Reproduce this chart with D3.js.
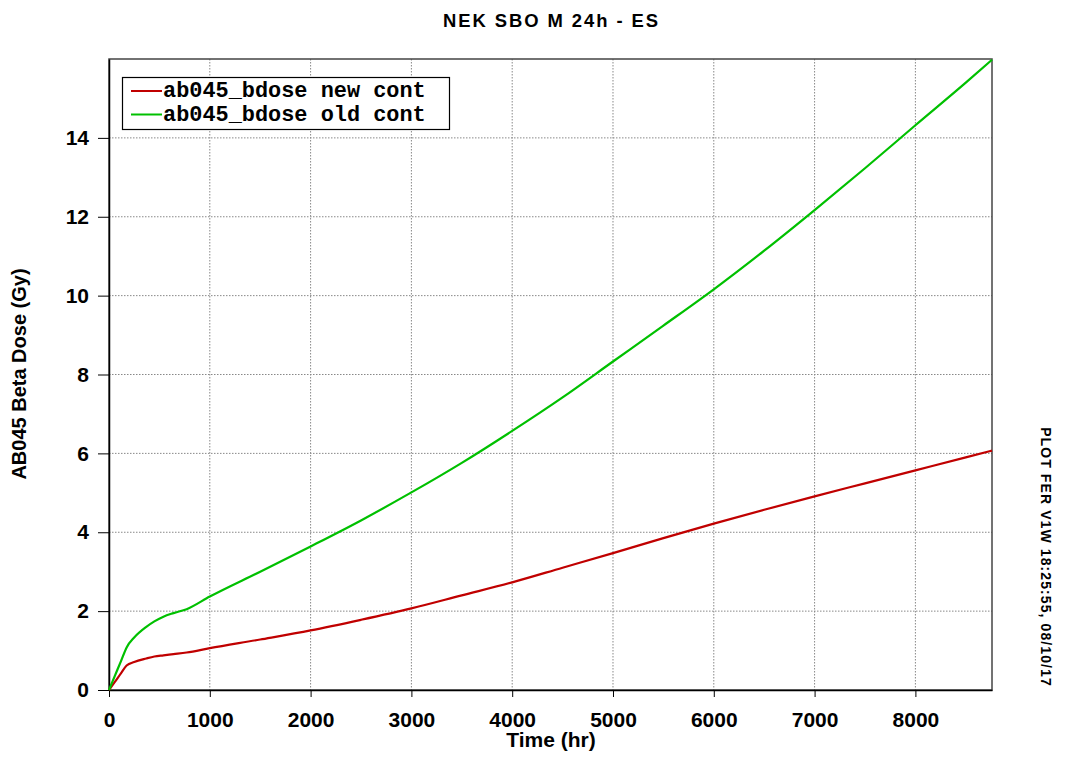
<!DOCTYPE html>
<html>
<head>
<meta charset="utf-8">
<script src="https://cdn.jsdelivr.net/npm/d3@7"></script>
<style>
  body { margin: 0; background: #fff; }
  text { font-family: "Liberation Sans", Arial, sans-serif; font-weight: bold; }
  .grid line { stroke: #888; stroke-dasharray: 1.5,1.5; stroke-width: 1; }
  .axis path, .axis line { stroke: #000; }
  .legend text { font-family: "Liberation Mono", "Courier New", monospace; font-weight: bold; }
</style>
</head>
<body>
<script>
// hours
var hours = [0, 60, 120, 175, 250, 370, 450, 540, 640, 770, 1000, 1500, 2000, 2500, 3000, 3500, 4000, 4500, 5000, 5500, 6000, 6500, 7000, 7500, 8000, 8500, 8760];
// dose, Gy
var newCont = [0, 0.21, 0.43, 0.62, 0.71, 0.80, 0.85, 0.88, 0.91, 0.95, 1.06, 1.28, 1.51, 1.78, 2.07, 2.40, 2.73, 3.10, 3.47, 3.85, 4.22, 4.57, 4.91, 5.24, 5.57, 5.90, 6.07];
var oldCont = [0, 0.37, 0.74, 1.08, 1.33, 1.60, 1.74, 1.86, 1.95, 2.05, 2.37, 3.00, 3.64, 4.30, 5.01, 5.76, 6.57, 7.42, 8.33, 9.24, 10.16, 11.14, 12.17, 13.23, 14.32, 15.40, 15.98];
var seriesNames = ["ab045_bdose new cont", "ab045_bdose old cont"];
var seriesColors = ["#c00000", "#00c000"];
var xTicks = [0, 1000, 2000, 3000, 4000, 5000, 6000, 7000, 8000];
var yTicks = [0, 2, 4, 6, 8, 10, 12, 14];

var W = 1091, H = 761;
var m = { left: 109, top: 59, right: 992, bottom: 690 };

var svg = d3.select("body").append("svg")
    .attr("width", W).attr("height", H);

var x = d3.scaleLinear().domain([0, 8760]).range([m.left, m.right]);
var y = d3.scaleLinear().domain([0, 16]).range([m.bottom, m.top]);

// grid
var grid = svg.append("g").attr("class", "grid");
grid.selectAll("line.v").data(xTicks.slice(1)).enter().append("line")
    .attr("x1", function(d) { return x(d); }).attr("x2", function(d) { return x(d); })
    .attr("y1", m.top).attr("y2", m.bottom);
grid.selectAll("line.h").data(yTicks.slice(1)).enter().append("line")
    .attr("y1", function(d) { return y(d); }).attr("y2", function(d) { return y(d); })
    .attr("x1", m.left).attr("x2", m.right);

// frame
svg.append("rect")
    .attr("x", m.left).attr("y", m.top)
    .attr("width", m.right - m.left).attr("height", m.bottom - m.top)
    .attr("fill", "none").attr("stroke", "#444").attr("stroke-width", 1.5);

// axes
var xAxis = svg.append("g").attr("class", "axis")
    .attr("transform", "translate(0," + m.bottom + ")")
    .call(d3.axisBottom(x).tickValues(xTicks).tickFormat(d3.format("d"))
      .tickSize(7).tickPadding(15).tickSizeOuter(0));
xAxis.select(".domain").attr("stroke-width", 1.5);
xAxis.selectAll("text").attr("font-size", "21px").attr("fill", "#000");

var yAxis = svg.append("g").attr("class", "axis")
    .attr("transform", "translate(" + m.left + ",0)")
    .call(d3.axisLeft(y).tickValues(yTicks).tickSize(11).tickPadding(9).tickSizeOuter(0));
yAxis.select(".domain").attr("stroke-width", 1.5);
yAxis.selectAll("text").attr("font-size", "21px").attr("fill", "#000");

// lines
var rows = [newCont, oldCont];
var line = d3.line()
    .x(function(d) { return x(d[0]); })
    .y(function(d) { return y(d[1]); })
    .curve(d3.curveMonotoneX);

rows.forEach(function(vals, i) {
  svg.append("path")
      .datum(hours.map(function(h, j) { return [h, vals[j]]; }))
      .attr("fill", "none")
      .attr("stroke", seriesColors[i])
      .attr("stroke-width", 2.2)
      .attr("d", line);
});

// legend
var legend = svg.append("g").attr("class", "legend");
legend.append("rect")
    .attr("x", 122.5).attr("y", 77.5).attr("width", 327).attr("height", 52)
    .attr("fill", "#fff").attr("stroke", "#000").attr("stroke-width", 1.2);
seriesNames.forEach(function(name, i) {
  var cy = 91 + i * 23.5;
  legend.append("line")
      .attr("x1", 131).attr("x2", 162).attr("y1", cy).attr("y2", cy)
      .attr("stroke", seriesColors[i]).attr("stroke-width", 2);
  legend.append("text")
      .attr("x", 163).attr("y", cy + 6)
      .attr("font-size", "21.9px")
      .text(name);
});

// titles
svg.append("text")
    .attr("x", 443).attr("y", 27)
    .attr("font-size", "19px")
    .attr("textLength", 217)
    .attr("lengthAdjust", "spacingAndGlyphs")
    .attr("letter-spacing", "2px")
    .text("NEK SBO M 24h - ES");

svg.append("text")
    .attr("x", 551).attr("y", 747)
    .attr("text-anchor", "middle")
    .attr("font-size", "21px")
    .text("Time (hr)");

svg.append("text")
    .attr("transform", "translate(26,374) rotate(-90)")
    .attr("text-anchor", "middle")
    .attr("font-size", "20px")
    .text("AB045 Beta Dose (Gy)");

svg.append("text")
    .attr("transform", "translate(1041,557) rotate(90)")
    .attr("text-anchor", "middle")
    .attr("font-size", "14px")
    .attr("letter-spacing", "1.1px")
    .text("PLOT FER V1W  18:25:55,  08/10/17");
</script>
</body>
</html>
